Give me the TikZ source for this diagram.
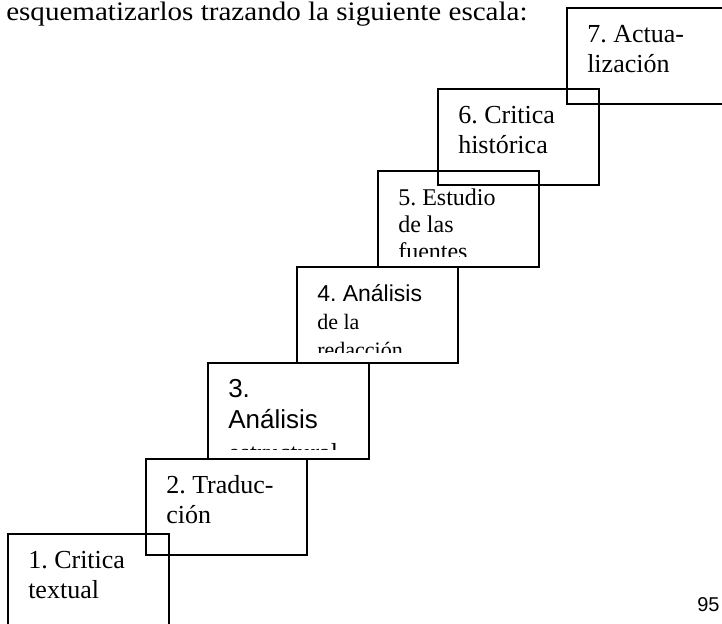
\documentclass[tikz,border=0pt]{standalone}
\usepackage{fontspec}
\setmainfont{Liberation Serif}
\setsansfont{Liberation Sans}
\newfontfamily\headserif{Liberation Serif}[FakeStretch=1.09]
\usetikzlibrary{calc}
\frenchspacing
\newcommand{\headfont}{\headserif\fontsize{20}{24}\selectfont}
\newcommand{\boxfont}{\fontsize{19.5}{22.5}\selectfont}
\newcommand{\smallboxfont}{\fontsize{18}{20.25}\selectfont}
\newcommand{\redfont}{\fontsize{16.5}{21}\selectfont}
\newcommand{\sansboxfont}{\sffamily\fontsize{19.5}{22.5}\selectfont}
\newcommand{\pagefont}{\sffamily\fontsize{15}{18}\selectfont}
\tikzset{
  stepbox/.style = {draw=black, line width=1.5pt, minimum width=120.75pt, minimum height=72pt, inner sep=0pt, anchor=north west},
  steptext/.style = {anchor=north west, align=left, inner sep=0pt, font=#1},
  pagetext/.style = {anchor=base west, inner sep=0pt, font=#1}
}
\newcommand{\stair}[4]{%
  % #1: name of the step (s1, s2, ...)
  % #2: upper left corner, in pixels
  % #3: font of the text
  % #4: text of the step
  \node[stepbox] (#1) at (#2) {};
  \begin{scope}
    \clip (#1.north west) rectangle ($(#1.south east)+(0,-11)$);
    % first baseline 35px under the top
    \node[steptext={#3}] (#1t) at ($(#1.north west)+(21,15)$) {\rule{0pt}{15pt}#4};
  \end{scope}
}

\begin{document}
\begin{tikzpicture}[x=0.75pt, y=-0.75pt]

    % Page
    \useasboundingbox (0,0) rectangle (722,624);

    % Text
    \node[pagetext={\headfont}] (head) at (6,20.5) {esquematizarlos trazando la siguiente escala:};
    \node[pagetext={\pagefont}] (page) at (697,611) {95};

    % Steps
    \stair{s1}{7,533}{\boxfont}{1. Critica\\textual}
    \stair{s2}{145,458}{\boxfont}{2. Traduc-\\ción}
    \stair{s3}{207,362}{\sansboxfont}{3.\\[1pt]Análisis\\[2.5pt]{\rmfamily estructural}}
    \stair{s4}{296,266}{\redfont}{{\sffamily\fontsize{17.25}{21}\selectfont 4. Análisis}\\de la\\redacción}
    \stair{s5}{377,170}{\smallboxfont}{5. Estudio\\de las\\fuentes}
    \stair{s6}{437,88}{\boxfont}{6. Critica\\histórica}
    \stair{s7}{566,7}{\boxfont}{7. Actua-\\lización}

\end{tikzpicture}
\end{document}
